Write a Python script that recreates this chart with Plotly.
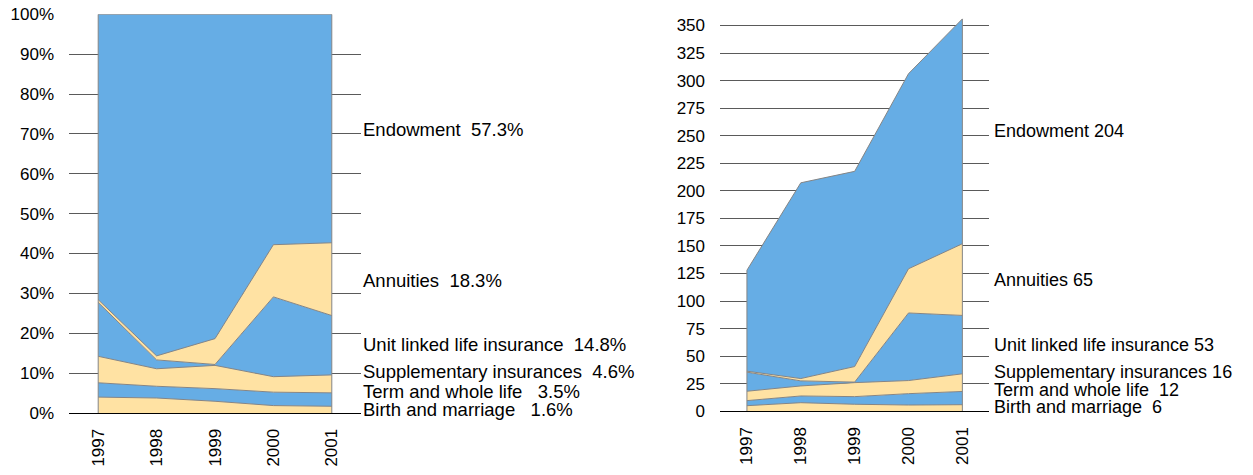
import plotly.graph_objects as go

# ---------------- data ----------------
years = ["1997", "1998", "1999", "2000", "2001"]
series_names = ["Birth and marriage", "Term and whole life", "Supplementary insurances",
                "Unit linked life insurance", "Annuities", "Endowment"]
birth = [5.1, 7.8, 6.4, 5.7, 6.0]
term = [4.6, 6.1, 6.9, 10.3, 12.0]
supp = [8.5, 9.1, 12.7, 11.9, 16.0]
unit = [17.3, 4.6, 0.5, 61.3, 53.0]
annuities = [0.9, 2.1, 14.1, 40.1, 65.0]
endowment = [91.6, 177.6, 177.1, 177.0, 204.0]
series_values = [birth, term, supp, unit, annuities, endowment]

pct_labels = ["Birth and marriage   1.6%", "Term and whole life   3.5%",
              "Supplementary insurances  4.6%", "Unit linked life insurance  14.8%",
              "Annuities  18.3%", "Endowment  57.3%"]
abs_labels = ["Birth and marriage  6", "Term and whole life  12",
              "Supplementary insurances 16", "Unit linked life insurance 53",
              "Annuities 65", "Endowment 204"]
pct_ticks = list(range(0, 101, 10))
abs_ticks = list(range(0, 351, 25))

# ---------------- style ----------------
W, H = 1253, 475
BLUE = "#66ADE5"
YELLOW = "#FFE2A3"
fill_colors = [YELLOW, BLUE, YELLOW, BLUE, YELLOW, BLUE]
OUTLINE = "#858585"
FONT = "Liberation Sans, Arial, sans-serif"
left_label_y = [409.8, 391.7, 371.7, 344.5, 280.5, 129.5]
right_label_y = [407.2, 389.5, 371.7, 344.5, 279.7, 130.5]

fig = go.Figure()

for name, vals, col in zip(series_names, series_values, fill_colors):
    fig.add_trace(go.Scatter(x=years, y=vals, name=name, stackgroup="pct", groupnorm="percent",
                             mode="lines", line=dict(color=OUTLINE, width=1), fillcolor=col,
                             xaxis="x", yaxis="y", showlegend=False))
for name, vals, col in zip(series_names, series_values, fill_colors):
    fig.add_trace(go.Scatter(x=years, y=vals, name=name, stackgroup="abs",
                             mode="lines", line=dict(color=OUTLINE, width=1), fillcolor=col,
                             xaxis="x2", yaxis="y2", showlegend=False))

totals = [sum(v[i] for v in series_values) for i in range(len(years))]
# vertical edges of the areas
fig.add_trace(go.Scatter(x=[years[0], years[0], None, years[-1], years[-1]],
                         y=[0, 100, None, 0, 100], mode="lines",
                         line=dict(color=OUTLINE, width=1), xaxis="x", yaxis="y",
                         showlegend=False, hoverinfo="skip"))
fig.add_trace(go.Scatter(x=[years[0], years[0], None, years[-1], years[-1]],
                         y=[0, totals[0], None, 0, totals[-1]], mode="lines",
                         line=dict(color=OUTLINE, width=1), xaxis="x2", yaxis="y2",
                         showlegend=False, hoverinfo="skip"))

def px_x(a, b):
    return [a / W, b / W]

def px_y(top, bottom):
    return [(H - bottom) / H, (H - top) / H]

xax = dict(type="category", range=[-0.5, 4.5], tickangle=-90, showgrid=False,
           showline=True, linecolor="black", linewidth=1, ticks="", automargin=False,
           tickfont=dict(family=FONT, size=17, color="black"), ticklabelstandoff=8,
           zeroline=False, fixedrange=True)
yax = dict(showgrid=True, gridcolor="#5a5a5a", gridwidth=1, zeroline=False, ticks="",
           automargin=False,
           tickfont=dict(family=FONT, size=17, color="black"), ticklabelstandoff=14,
           showline=False, fixedrange=True)

fig.update_layout(
    width=W, height=H,
    margin=dict(l=0, r=0, t=0, b=0),
    paper_bgcolor="white", plot_bgcolor="white",
    showlegend=False,
    xaxis=dict(xax, domain=px_x(69, 361), anchor="y"),
    yaxis=dict(yax, domain=px_y(14.3, 413), range=[0, 100], tickvals=pct_ticks,
               ticktext=[f"{t}%" for t in pct_ticks], anchor="x"),
    xaxis2=dict(xax, domain=px_x(720, 989.3), anchor="y2"),
    yaxis2=dict(yax, domain=px_y(14.5, 411.3), range=[0, 360], tickvals=abs_ticks,
                anchor="x2"),
)

annotations = []
for txt, y in zip(pct_labels, left_label_y):
    annotations.append(dict(text=txt.replace(" ", "\u00a0"), x=361 / W, y=(H - y) / H,
                            xref="paper", yref="paper", xanchor="left", yanchor="middle",
                            showarrow=False, font=dict(family=FONT, size=18.5, color="black")))
for txt, y in zip(abs_labels, right_label_y):
    annotations.append(dict(text=txt.replace(" ", "\u00a0"), x=992 / W, y=(H - y) / H,
                            xref="paper", yref="paper", xanchor="left", yanchor="middle",
                            showarrow=False, font=dict(family=FONT, size=18, color="black")))
fig.update_layout(annotations=annotations)

fig.write_html("out.html", config={"displayModeBar": False},
               post_script="document.body.style.margin='0px';document.body.style.overflow='hidden';")
